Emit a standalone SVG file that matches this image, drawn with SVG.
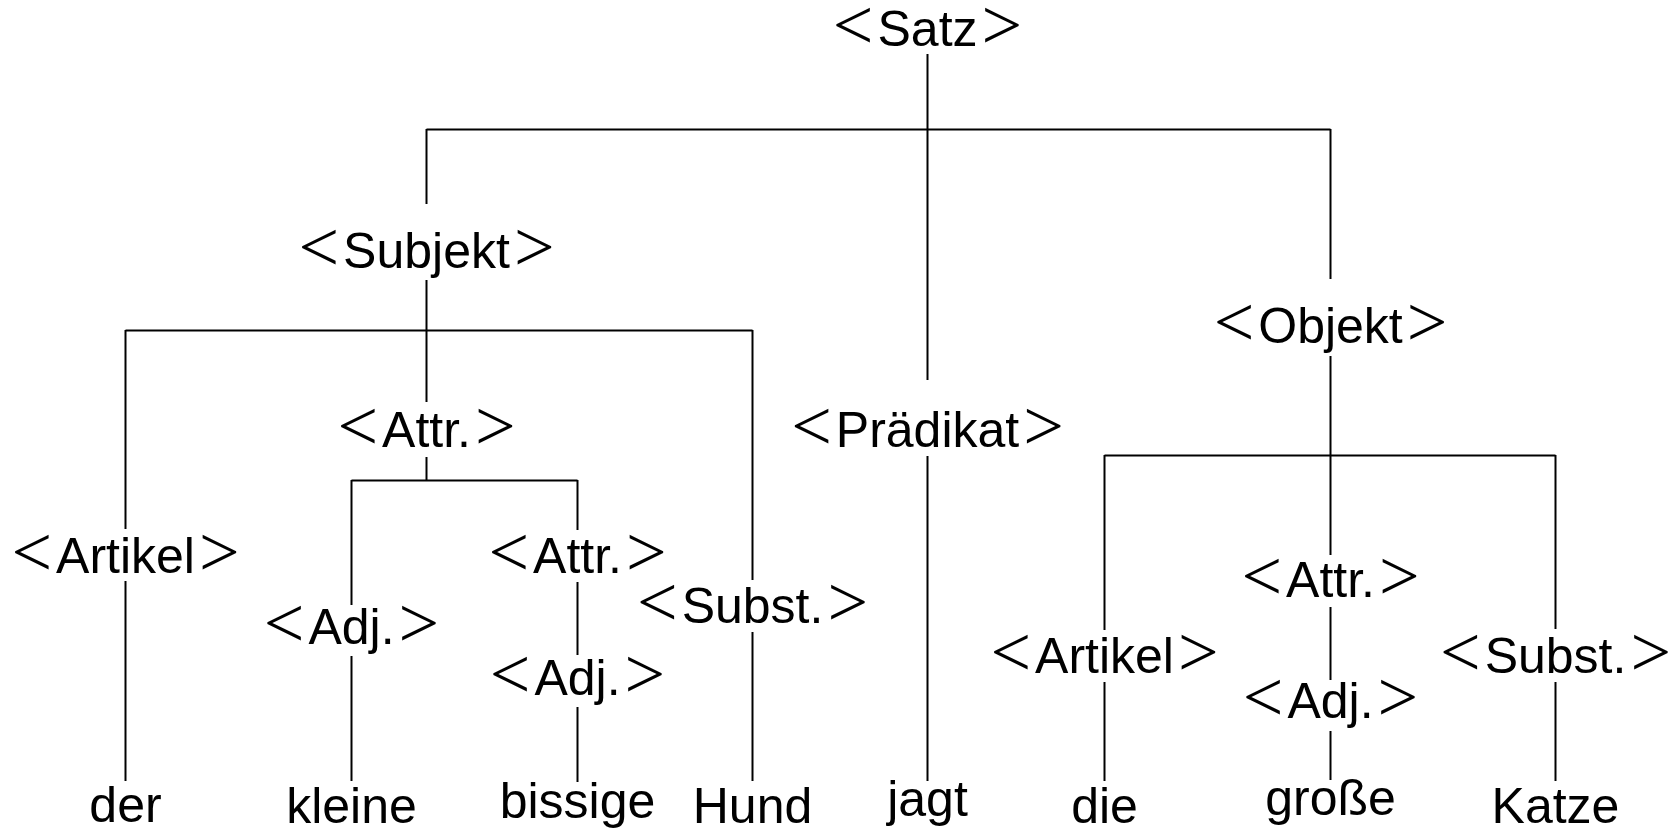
<svg xmlns="http://www.w3.org/2000/svg" width="1677" height="834" viewBox="0 0 1677 834">
  <style>
    .edge { stroke: #000; stroke-width: 2; fill: none; stroke-linecap: butt; }
    .lbl { font-family: "Liberation Sans", Arial, sans-serif; font-size: 50px; fill: #000; text-anchor: middle; }
    .br { font-family: "Liberation Serif", "Times New Roman", serif; font-size: 72px; }
  </style>
  <rect width="1677" height="834" fill="#fff"/>

  <!-- tree connectors -->
  <g id="connectors" class="edge">
    <path d="M927.5 54 V380"/>
    <path d="M426.5 129.5 H1330.5"/>
    <path d="M426.5 129 V204"/>
    <path d="M1330.5 129 V279"/>
    <!-- Subjekt subtree -->
    <path d="M426.5 280 V402"/>
    <path d="M125.5 330.5 H752.5"/>
    <path d="M125.5 330 V529"/>
    <path d="M125.5 581 V781"/>
    <path d="M426.5 457 V480"/>
    <path d="M351.5 480.5 H577.5"/>
    <path d="M351.5 480 V605"/>
    <path d="M351.5 656 V781"/>
    <path d="M577.5 480 V530"/>
    <path d="M577.5 582 V655"/>
    <path d="M577.5 707 V782"/>
    <path d="M752.5 330 V580"/>
    <path d="M752.5 632 V781"/>
    <!-- Prädikat -->
    <path d="M927.5 456 V781"/>
    <!-- Objekt subtree -->
    <path d="M1330.5 356 V555"/>
    <path d="M1104.5 455.5 H1555.5"/>
    <path d="M1104.5 455 V630"/>
    <path d="M1104.5 682 V781"/>
    <path d="M1330.5 607 V680"/>
    <path d="M1330.5 731 V780"/>
    <path d="M1555.5 455 V629"/>
    <path d="M1555.5 682 V781"/>
  </g>

  <!-- category nodes: angle brackets are set larger, in a thin serif -->
  <g id="satz"><text class="lbl" x="927.5" y="46"><tspan class="br" dy="3">&lt;</tspan><tspan dx="4" dy="-3">Satz</tspan><tspan class="br" dx="4" dy="3">&gt;</tspan></text></g>
  <g id="subjekt"><text class="lbl" x="426.5" y="268"><tspan class="br" dy="3">&lt;</tspan><tspan dx="4" dy="-3">Subjekt</tspan><tspan class="br" dx="4" dy="3">&gt;</tspan></text></g>
  <g id="attr-subj"><text class="lbl" x="426.5" y="447"><tspan class="br" dy="3">&lt;</tspan><tspan dx="4" dy="-3">Attr.</tspan><tspan class="br" dx="4" dy="3">&gt;</tspan></text></g>
  <g id="artikel-subj"><text class="lbl" x="125.5" y="573"><tspan class="br" dy="3">&lt;</tspan><tspan dx="4" dy="-3">Artikel</tspan><tspan class="br" dx="4" dy="3">&gt;</tspan></text></g>
  <g id="adj-kleine"><text class="lbl" x="351.5" y="644"><tspan class="br" dy="3">&lt;</tspan><tspan dx="4" dy="-3">Adj.</tspan><tspan class="br" dx="4" dy="3">&gt;</tspan></text></g>
  <g id="attr-inner"><text class="lbl" x="577.5" y="573"><tspan class="br" dy="3">&lt;</tspan><tspan dx="4" dy="-3">Attr.</tspan><tspan class="br" dx="4" dy="3">&gt;</tspan></text></g>
  <g id="adj-bissige"><text class="lbl" x="577.5" y="695"><tspan class="br" dy="3">&lt;</tspan><tspan dx="4" dy="-3">Adj.</tspan><tspan class="br" dx="4" dy="3">&gt;</tspan></text></g>
  <g id="subst-subj"><text class="lbl" x="752.5" y="623"><tspan class="br" dy="3">&lt;</tspan><tspan dx="4" dy="-3">Subst.</tspan><tspan class="br" dx="4" dy="3">&gt;</tspan></text></g>
  <g id="praedikat"><text class="lbl" x="927.5" y="447"><tspan class="br" dy="3">&lt;</tspan><tspan dx="4" dy="-3">Prädikat</tspan><tspan class="br" dx="4" dy="3">&gt;</tspan></text></g>
  <g id="objekt"><text class="lbl" x="1330.5" y="343"><tspan class="br" dy="3">&lt;</tspan><tspan dx="4" dy="-3">Objekt</tspan><tspan class="br" dx="4" dy="3">&gt;</tspan></text></g>
  <g id="artikel-obj"><text class="lbl" x="1104.5" y="673"><tspan class="br" dy="3">&lt;</tspan><tspan dx="4" dy="-3">Artikel</tspan><tspan class="br" dx="4" dy="3">&gt;</tspan></text></g>
  <g id="attr-obj"><text class="lbl" x="1330.5" y="597"><tspan class="br" dy="3">&lt;</tspan><tspan dx="4" dy="-3">Attr.</tspan><tspan class="br" dx="4" dy="3">&gt;</tspan></text></g>
  <g id="adj-obj"><text class="lbl" x="1330.5" y="718"><tspan class="br" dy="3">&lt;</tspan><tspan dx="4" dy="-3">Adj.</tspan><tspan class="br" dx="4" dy="3">&gt;</tspan></text></g>
  <g id="subst-obj"><text class="lbl" x="1555.5" y="673"><tspan class="br" dy="3">&lt;</tspan><tspan dx="4" dy="-3">Subst.</tspan><tspan class="br" dx="4" dy="3">&gt;</tspan></text></g>

  <!-- leaf words -->
  <g id="w-der"><text class="lbl" x="125.5" y="822">der</text></g>
  <g id="w-kleine"><text class="lbl" x="351.5" y="823">kleine</text></g>
  <g id="w-bissige"><text class="lbl" x="577.5" y="818">bissige</text></g>
  <g id="w-hund"><text class="lbl" x="752.5" y="823">Hund</text></g>
  <g id="w-jagt"><text class="lbl" x="927.5" y="816">jagt</text></g>
  <g id="w-die"><text class="lbl" x="1104.5" y="823">die</text></g>
  <g id="w-grosse"><text class="lbl" x="1330.5" y="815">große</text></g>
  <g id="w-katze"><text class="lbl" x="1555.5" y="823">Katze</text></g>
</svg>
